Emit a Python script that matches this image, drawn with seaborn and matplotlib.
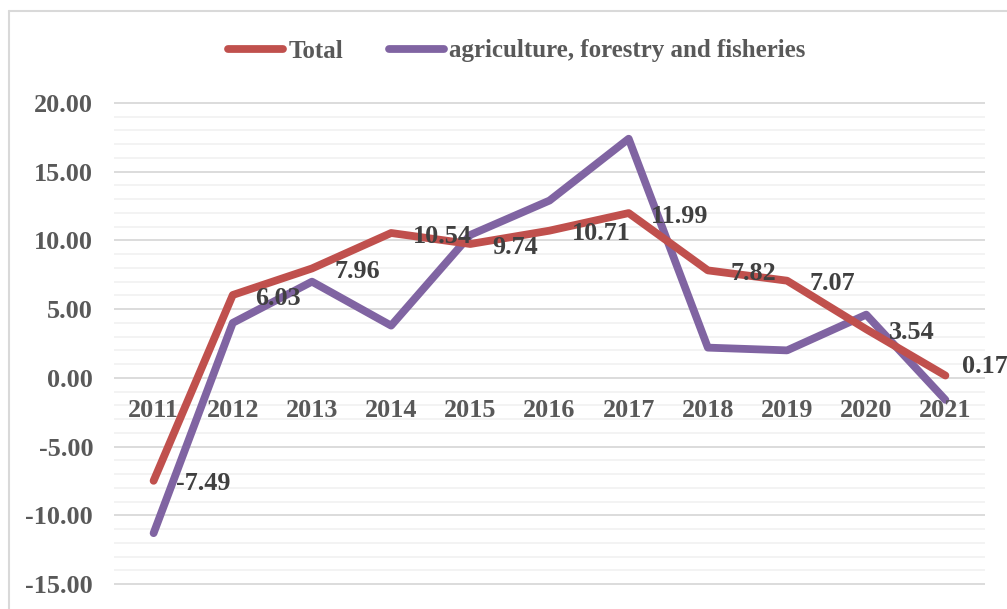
import matplotlib
matplotlib.use("Agg")
import matplotlib.pyplot as plt
from matplotlib.lines import Line2D
from matplotlib.ticker import MultipleLocator, FormatStrFormatter
import seaborn as sns
import pandas as pd

# Annual growth rates (%)
years = [2011, 2012, 2013, 2014, 2015, 2016, 2017, 2018, 2019, 2020, 2021]
total = [-7.49, 6.03, 7.96, 10.54, 9.74, 10.71, 11.99, 7.82, 7.07, 3.54, 0.17]
agriculture = [-11.3, 4.0, 7.0, 3.8, 10.4, 12.9, 17.4, 2.2, 2.0, 4.6, -1.6]
series_names = ["Total", "agriculture, forestry and fisheries"]

RED = "#C0504D"
PURPLE = "#8064A2"
TICK_COLOR = "#595959"
LABEL_COLOR = "#404040"
FONT = "Liberation Serif"
FS = 18.8
LEG_FS = 18

df = pd.DataFrame({"year": years, series_names[0]: total, series_names[1]: agriculture})

sns.set_style("white")
plt.rcParams["font.family"] = [FONT, "DejaVu Serif"]
plt.rcParams["font.weight"] = "bold"

fig = plt.figure(figsize=(10.07, 6.09), dpi=100)
# y range padded slightly so the edge gridlines are not clipped
ax = fig.add_axes([114 / 1007, 1 - 585.4 / 609, (985 - 114) / 1007, (585.4 - 101.6) / 609])

line_kw = dict(linewidth=5.6, solid_capstyle="round", solid_joinstyle="round")
sns.lineplot(data=df, x="year", y=series_names[0], color=RED, ax=ax, zorder=4, **line_kw)
sns.lineplot(data=df, x="year", y=series_names[1], color=PURPLE, ax=ax, zorder=3, **line_kw)

ax.set_xlim(years[0] - 0.5, years[-1] + 0.5)
ax.set_ylim(-15.1, 20.1)
ax.yaxis.set_major_locator(MultipleLocator(5))
ax.yaxis.set_minor_locator(MultipleLocator(1))
ax.yaxis.set_major_formatter(FormatStrFormatter("%.2f"))
ax.set_xticks(years)
ax.set_xticklabels([str(y) for y in years])

ax.grid(which="minor", axis="y", color="#F2F2F2", linewidth=1.3, zorder=0)
ax.grid(which="major", axis="y", color="#D9D9D9", linewidth=1.3, zorder=1)
ax.grid(which="both", axis="x", visible=False)
# year labels sit on top of the gridlines
ax.xaxis.set_zorder(3.5)
ax.yaxis.set_zorder(0.5)

for s in ax.spines.values():
    s.set_visible(False)
ax.spines["bottom"].set_position(("data", 0))
ax.tick_params(axis="both", which="both", length=0)
ax.tick_params(axis="y", pad=15, labelsize=FS, labelcolor=TICK_COLOR)
ax.tick_params(axis="x", pad=15, labelsize=FS, labelcolor=TICK_COLOR)
for lab in ax.get_xticklabels() + ax.get_yticklabels():
    lab.set_fontweight("bold")
    lab.set_fontfamily(FONT)
ax.set_xlabel("")
ax.set_ylabel("")
ax.set_facecolor("none")

# value labels for the total series, placed to the right of each point
for i, (x, v) in enumerate(zip(years, total)):
    last = i == len(years) - 1
    dx, dy = (12, 6.5) if last else (16, -2.2)
    ax.annotate(f"{v:.2f}", (x, v), xytext=(dx, dy), textcoords="offset points",
                ha="left", va="center", fontsize=FS, fontweight="bold",
                color=LABEL_COLOR, fontfamily=FONT, zorder=6, annotation_clip=False)

handles = [Line2D([], [], color=RED, linewidth=5.6, solid_capstyle="round"),
           Line2D([], [], color=PURPLE, linewidth=5.6, solid_capstyle="round")]
leg = fig.legend(handles, series_names, loc="center", ncol=2,
                 bbox_to_anchor=(517 / 1007, 1 - 51 / 609), frameon=False,
                 prop={"family": FONT, "weight": "bold", "size": LEG_FS},
                 handlelength=2.2, handletextpad=0.22, columnspacing=1.82,
                 borderaxespad=0, borderpad=0)
for t in leg.get_texts():
    t.set_color(TICK_COLOR)

# chart frame
fig.add_artist(Line2D([9 / 1007, 1.01], [1 - 11 / 609] * 2, transform=fig.transFigure,
                      color="#D9D9D9", linewidth=1.5))
fig.add_artist(Line2D([9 / 1007] * 2, [-0.01, 1 - 11 / 609], transform=fig.transFigure,
                      color="#D9D9D9", linewidth=1.5))

fig.savefig("out.png", dpi=100)
